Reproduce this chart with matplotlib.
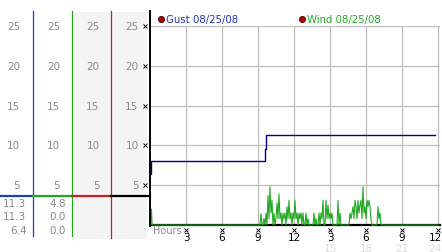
import matplotlib
matplotlib.use('Agg')
import matplotlib.pyplot as plt
from matplotlib.transforms import Affine2D, blended_transform_factory, ScaledTranslation
from matplotlib.lines import Line2D
from matplotlib.patches import Rectangle
import numpy as np

W, H = 442, 253

# ---------------- data ----------------
gust_hours = [0.0, 0.05, 9.55, 9.65, 23.75]
gust_speed = [6.4, 8.0, 9.6, 11.3, 11.3]

wind_start_hours = [0.0, 0.06, 0.12, 0.18]
wind_start_speed = [3.2, 0.0, 2.0, 0.0]

wind_active_start = 9.0      # hour of first 5-minute sample below
wind_sample_minutes = 5
wind_active_speed = [
    0, 0, 0, 1.4, 0, 0, 0.8, 0, 1.5, 0, 3.7, 0.8,
    4.8, 1.5, 3.1, 0, 1.5, 0, 0.8, 2.8, 0.8, 3.9, 0.8, 1.5,
    0, 1.5, 0.8, 1.5, 0, 2.3, 0.8, 3.1, 0.8, 1.5, 0, 1.5,
    0.8, 3.1, 0.8, 1.5, 0, 1.5, 0.8, 1.5, 0, 1.5, 0, 0,
    1.5, 0, 0.8, 0, 0, 0, 0, 0, 1.5, 0, 0.8, 0,
    0, 1.5, 0, 1.5, 0.8, 3.1, 0, 0, 3.1, 0.8, 2.5, 0.8,
    1.5, 0.8, 1.5, 0, 0, 0, 0, 0, 3.1, 0, 1.5, 0,
    0, 0, 0, 0, 0, 0, 0, 0, 1.5, 0.8, 1.5, 2.3,
    0.8, 3.1, 2.3, 0.8, 3.1, 1.5, 2.5, 3.1, 0.8, 4.8, 1.5, 2.3,
    0.8, 3.1, 2.3, 3.1, 2.3, 0.6, 0, 0, 0, 0, 0, 0,
    2.3, 0.8, 1.5, 0, 0, 0,
]
wind_end_hour = 24.0

gust_stats = ['11.3', '11.3', '6.4']
wind_stats = ['4.8', '0.0', '0.0']

y_ticks = [5, 10, 15, 20, 25]
x_ticks = [3, 6, 9, 12, 15, 18, 21, 24]
x_labels = ['3', '6', '9', '12', '3', '6', '9', '12']
x_ticks_24h = [15, 18, 21, 24]
x_labels_24h = ['15', '18', '21', '24']

gust_label = 'Gust 08/25/08'
wind_label = 'Wind 08/25/08'

# ---------------- figure ----------------
plt.rcParams['font.family'] = ['DejaVu Sans']
fig = plt.figure(figsize=(W / 100, H / 100), dpi=100)
fig.patch.set_facecolor('white')

# pixel transform (x from left, y from top)
T = Affine2D().scale(1 / W, -1 / H).translate(0, 1) + fig.transFigure

BLUE = '#1e3cc0'
GREEN = '#22a822'
RED = '#cc2020'
GRAY_TXT = '#8a8a8a'

# column backgrounds
for x0, w in [(72.5, 38.5), (111.5, 35)]:
    fig.add_artist(Rectangle((x0, 13), w, 227, transform=T,
                             facecolor='#f4f4f4', edgecolor='none', zorder=0))

ax = fig.add_axes([150 / W, (H - 226) / H, 290 / W, (226 - 27) / H])
ax.set_facecolor('none')
ax.set_xlim(0, 290 / 12)
ax.set_ylim(0, 25)
ax.set_xticks(x_ticks)
ax.set_xticklabels([])
ax.set_yticks(y_ticks)
ax.set_yticklabels([])
ax.grid(True, color='#bdbdbd', lw=0.9)
ax.set_axisbelow(True)
ax.tick_params(axis='both', length=0)
for s in ['top', 'right', 'left']:
    ax.spines[s].set_visible(False)
ax.spines['bottom'].set_color('black')
ax.spines['bottom'].set_linewidth(1.6)
ax.spines['bottom'].set_zorder(2)

# wind series
wind_active_hours = wind_active_start + np.arange(len(wind_active_speed)) * wind_sample_minutes / 60.0
wind_hours = list(wind_start_hours) + list(wind_active_hours) + [wind_end_hour]
wind_speed = list(wind_start_speed) + list(wind_active_speed) + [0.0]
ax.plot(wind_hours, wind_speed, color=GREEN, lw=0.8, zorder=3, clip_on=False)

# gust series
ax.step(gust_hours, gust_speed, where='post', color='#000088', lw=1.0, zorder=4)

# left vertical line of main panel + column separators
fig.add_artist(Line2D([149.5, 149.5], [12, 227], transform=T, color='black', lw=1.4, zorder=5))
fig.add_artist(Line2D([33, 33], [12, 237], transform=T, color=BLUE, lw=0.9, zorder=5))
fig.add_artist(Line2D([72, 72], [12, 237], transform=T, color=GREEN, lw=0.9, zorder=5))
fig.add_artist(Line2D([111, 111], [12, 239], transform=T, color=RED, lw=0.9, zorder=5))

# horizontal separators
for (xa, xb), c in zip([(0, 33), (33, 72), (72, 111), (111, 150)], [BLUE, GREEN, RED, 'black']):
    fig.add_artist(Line2D([xa, xb], [197, 197], transform=T, color=c, lw=1.6, zorder=6))

# y labels in the four columns
tyl = blended_transform_factory(T, ax.transData)
for cx in [20, 60, 99.5, 138.5]:
    for v in y_ticks:
        ax.text(cx, v, str(v), transform=tyl, ha='right', va='center',
                fontsize=7.5, color=GRAY_TXT, clip_on=False)
ax.plot([145] * len(y_ticks), y_ticks, 'x', transform=tyl, ms=2.3, mew=0.7,
        color='black', clip_on=False, zorder=7)

# stats
for i, (g, w) in enumerate(zip(gust_stats, wind_stats)):
    yy = 204 + i * 13.5
    fig.text(26.5, yy, g, transform=T, ha='right', va='center', fontsize=7.5, color=GRAY_TXT)
    fig.text(66, yy, w, transform=T, ha='right', va='center', fontsize=7.5, color=GRAY_TXT)

# x tick markers and labels
txl = blended_transform_factory(ax.transData, T)
ax.plot(x_ticks, [231] * len(x_ticks), 'x', transform=txl, ms=2.3, mew=0.7,
        color='black', clip_on=False, zorder=7)
shift_last = ScaledTranslation(-3 / 100, 0, fig.dpi_scale_trans)
for k, (h, lab) in enumerate(zip(x_ticks, x_labels)):
    tr = txl + shift_last if k == len(x_ticks) - 1 else txl
    ax.text(h, 238.5, lab, transform=tr, ha='center', va='center', fontsize=7.5,
            color='black', clip_on=False)
for k, (h, lab) in enumerate(zip(x_ticks_24h, x_labels_24h)):
    tr = txl + shift_last if k == len(x_ticks_24h) - 1 else txl
    ax.text(h, 249, lab, transform=tr, ha='center', va='center', fontsize=7.5,
            color='#dcdcdc', clip_on=False)
fig.text(153, 231, 'Hours', transform=T, ha='left', va='center', fontsize=7, color=GRAY_TXT)

# legend
for xd, lab, c in [(161, gust_label, '#2233bb'), (302, wind_label, GREEN)]:
    fig.add_artist(Line2D([xd], [20], transform=T, marker='o', ms=4.5,
                          mfc='#b00000', mec='#300000', mew=0.5, ls='none', zorder=8))
    fig.text(xd + 5, 20, lab, transform=T, ha='left', va='center', fontsize=7.3, color=c)

fig.savefig('out.png', dpi=100, facecolor='white')
